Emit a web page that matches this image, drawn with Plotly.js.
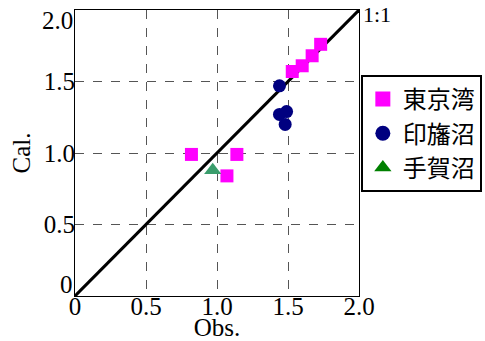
<!DOCTYPE html>
<html>
<head>
<meta charset="utf-8">
<script src="https://cdn.plot.ly/plotly-3.0.1.min.js"></script>
<style>html,body{margin:0;padding:0;background:#fff;}#chart{width:485px;height:341px;}</style>
</head>
<body>
<div id="chart"></div>
<script>
// Data
const seriesNames = ["東京湾", "印旛沼", "手賀沼"];
const tokyoObs = [0.82, 1.07, 1.14, 1.53, 1.60, 1.67, 1.73];
const tokyoCal = [0.99, 0.84, 0.99, 1.57, 1.61, 1.68, 1.76];
const inbaObs = [1.44, 1.44, 1.49, 1.48];
const inbaCal = [1.47, 1.27, 1.29, 1.20];
const tegaObs = [0.97];
const tegaCal = [0.88];
const oneToOneX = [0, 2];
const oneToOneY = [0, 2];
const tickVals = [0, 0.5, 1.0, 1.5, 2.0];
const tickText = ["0", "0.5", "1.0", "1.5", "2.0"];

const serif = "Liberation Serif";
const cjk = "Noto Sans CJK JP";

const traces = [
  {x: oneToOneX, y: oneToOneY, mode: "lines", line: {color: "#000", width: 3}, showlegend: false, hoverinfo: "skip"},
  {x: tokyoObs, y: tokyoCal, mode: "markers", name: seriesNames[0],
   marker: {symbol: "square", size: 13, color: "#ff00ff"}, showlegend: false},
  {x: inbaObs, y: inbaCal, mode: "markers", name: seriesNames[1],
   marker: {symbol: "circle", size: 13, color: "#000080"}, showlegend: false},
  {x: tegaObs, y: tegaCal, mode: "markers", name: seriesNames[2],
   marker: {symbol: "triangle-up", size: 15, color: "#3a9d6c"}, showlegend: false},
  // legend entries
  {x: [null], y: [null], mode: "markers", name: seriesNames[0], marker: {symbol: "square", size: 15, color: "#ff00ff"}},
  {x: [null], y: [null], mode: "markers", name: seriesNames[1], marker: {symbol: "circle", size: 15, color: "#000080"}},
  {x: [null], y: [null], mode: "markers", name: seriesNames[2], marker: {symbol: "triangle-up", size: 15, color: "#008000"}}
];

const axisCommon = {
  range: [0, 2],
  tickvals: tickVals,
  showline: true, mirror: true, linecolor: "#000", linewidth: 1,
  showgrid: true, gridcolor: "#555", gridwidth: 1, griddash: "dash",
  zeroline: false, ticks: "",
  tickfont: {family: serif, size: 25, color: "#000"},
  fixedrange: true
};

const layout = {
  width: 485, height: 341,
  margin: {l: 75, r: 126, t: 10, b: 45},
  paper_bgcolor: "#fff", plot_bgcolor: "#fff",
  xaxis: Object.assign({}, axisCommon, {
    ticktext: tickText,
    ticklabelstandoff: -12,
    title: {text: "Obs.", font: {family: serif, size: 25, color: "#000"}, standoff: 6}
  }),
  yaxis: Object.assign({}, axisCommon, {
    ticktext: ["", "0.5", "1.0", "1.5", ""],
    ticklabelstandoff: -6,
    title: {text: "Cal.", font: {family: serif, size: 25, color: "#000"}, standoff: 6}
  }),
  legend: {
    xref: "container", yref: "container",
    x: 0.744, y: 0.78, xanchor: "left", yanchor: "top",
    bordercolor: "#000", borderwidth: 2, bgcolor: "#fff",
    font: {family: cjk, size: 24, color: "#000"},
    tracegroupgap: 0
  },
  annotations: [
    {xref: "paper", yref: "paper", x: 1.0, y: 1.0, xanchor: "left", yanchor: "middle", yshift: -4, xshift: 2,
     text: "1:1", showarrow: false, font: {family: serif, size: 22, color: "#000"}},
    {xref: "paper", yref: "y", x: 0, y: tickVals[0], xanchor: "right", yanchor: "bottom", xshift: 0, yshift: -4,
     text: tickText[0], showarrow: false, font: {family: serif, size: 25, color: "#000"}},
    {xref: "paper", yref: "y", x: 0, y: tickVals[4], xanchor: "right", yanchor: "top", xshift: 0, yshift: 5,
     text: tickText[4], showarrow: false, font: {family: serif, size: 25, color: "#000"}}
  ],
  showlegend: true
};

Plotly.newPlot("chart", traces, layout, {staticPlot: true, displayModeBar: false});
</script>
</body>
</html>
